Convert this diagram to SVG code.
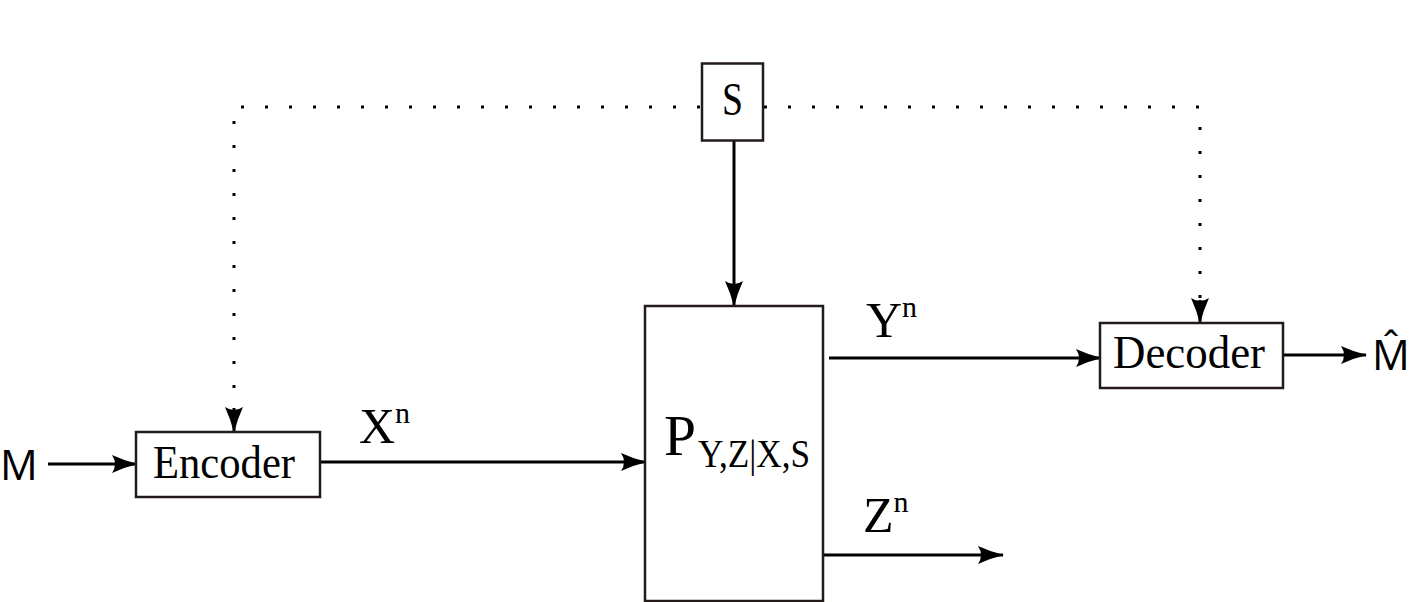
<svg xmlns="http://www.w3.org/2000/svg" width="1417" height="602" viewBox="0 0 1417 602">
<style>
.box{fill:#fff;stroke:#231a1a;stroke-width:2.5}
.ln{stroke:#000;stroke-width:3;fill:none}
.dot{stroke:#000;stroke-width:3;fill:none;stroke-dasharray:3 21}
.serif{font-family:"Liberation Serif","DejaVu Serif",serif;fill:#000}
.sans{font-family:"Open Sans","Noto Sans",sans-serif;fill:#000}
</style>
<defs>
<marker id="ah" viewBox="0 0 26 18" refX="25" refY="9" markerWidth="26" markerHeight="18" markerUnits="userSpaceOnUse" orient="auto">
<path d="M0,0 Q13,6 26,9 Q13,12 0,18 Q6,9 0,0 Z" fill="#000"/>
</marker>
</defs>
<rect width="1417" height="602" fill="#fff"/>
<g id="connectors">
<path class="dot" d="M700,107 H234 V408"/>
<path class="dot" d="M764,107 H1200 V300"/>
<path class="ln" d="M234,408 V432" marker-end="url(#ah)"/>
<path class="ln" d="M1200,300 V323" marker-end="url(#ah)"/>
<path class="ln" d="M734,140 V306" marker-end="url(#ah)"/>
<path class="ln" d="M48,464 H137" marker-end="url(#ah)"/>
<path class="ln" d="M320,462 H646" marker-end="url(#ah)"/>
<path class="ln" d="M829,358 H1101" marker-end="url(#ah)"/>
<path class="ln" d="M823,555 H1003" marker-end="url(#ah)"/>
<path class="ln" d="M1283,355 H1366" marker-end="url(#ah)"/>
</g>
<g id="S">
<rect class="box" x="702" y="63.5" width="61" height="77"/>
<text class="serif" x="732.5" y="115" font-size="46" text-anchor="middle" textLength="21" lengthAdjust="spacingAndGlyphs">S</text>
</g>
<g id="encoder">
<rect class="box" x="136" y="432" width="184" height="65"/>
<text class="serif" x="224" y="478" font-size="46" text-anchor="middle" textLength="142" lengthAdjust="spacingAndGlyphs">Encoder</text>
</g>
<g id="channel">
<rect class="box" x="645" y="306" width="178" height="295"/>
<text class="serif" x="664" y="455" font-size="56" textLength="32" lengthAdjust="spacingAndGlyphs">P</text>
<text class="serif" x="698" y="467" font-size="40" textLength="112" lengthAdjust="spacingAndGlyphs">Y,Z|X,S</text>
</g>
<g id="decoder">
<rect class="box" x="1100" y="323" width="183" height="65"/>
<text class="serif" x="1189" y="368" font-size="46" text-anchor="middle" textLength="152" lengthAdjust="spacingAndGlyphs">Decoder</text>
</g>
<g id="labels">
<text class="sans" x="0" y="480" font-size="42">M</text>
<text class="sans" x="1372" y="370" font-size="42">M̂</text>
<text class="serif" x="359" y="443" font-size="50">X<tspan font-size="30" dy="-20">n</tspan></text>
<text class="serif" x="866" y="337" font-size="50">Y<tspan font-size="30" dy="-20">n</tspan></text>
<text class="serif" x="863" y="532" font-size="50">Z<tspan font-size="30" dy="-20">n</tspan></text>
</g>
</svg>
